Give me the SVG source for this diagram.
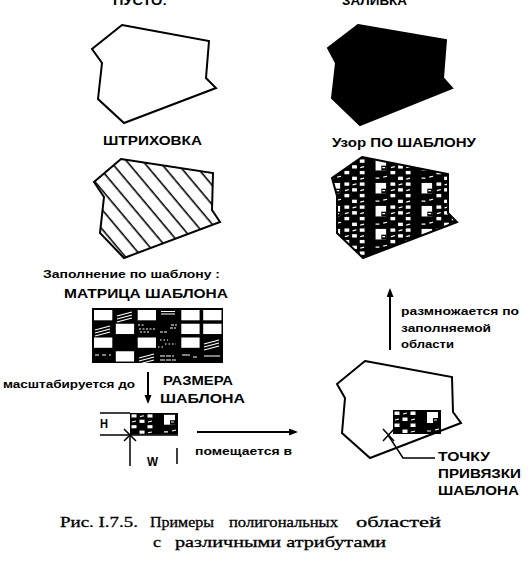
<svg xmlns="http://www.w3.org/2000/svg" xmlns:xlink="http://www.w3.org/1999/xlink" width="529" height="568" viewBox="0 0 529 568">
<style>
.poly{fill:none;stroke:#000;stroke-width:2;stroke-linejoin:miter}
.lbl{font-family:"Liberation Sans",Arial,sans-serif;font-weight:bold;font-size:12px;fill:#000}
.sm{font-family:"Liberation Sans",Arial,sans-serif;font-weight:bold;font-size:11px;fill:#000}
.cap{font-family:"Liberation Serif","Times New Roman",serif;font-size:15px;fill:#000;stroke:#000;stroke-width:0.3}
.ln{fill:none;stroke:#000;stroke-width:2}
.thin{fill:none;stroke:#000;stroke-width:1.5}
.wl{stroke:#fff;stroke-width:1.2;fill:none}
.wc{fill:#fff}
</style>
<defs>
<marker id="ah" markerUnits="userSpaceOnUse" markerWidth="10" markerHeight="8" refX="7" refY="3.5" orient="auto">
<path d="M0,0 L9,3.5 L0,7 Z" fill="#000"/>
</marker>
<pattern id="hatch" patternUnits="userSpaceOnUse" width="12.5" height="12.5" patternTransform="rotate(-40)">
<line x1="6" y1="-1" x2="6" y2="14" stroke="#000" stroke-width="1.6"/>
</pattern>
<g id="tpl">
<rect x="0" y="0" width="48" height="24" fill="#000"/>
<rect class="wc" x="1.5" y="1.5" width="5" height="3.5"/>
<rect class="wc" x="17.5" y="1.5" width="5" height="3.5"/>
<rect class="wc" x="9.5" y="7.5" width="5" height="3.5"/>
<rect class="wc" x="1.5" y="13.5" width="5" height="3.5"/>
<rect class="wc" x="17.5" y="13.5" width="5" height="3.5"/>
<rect class="wc" x="9.5" y="19.5" width="5" height="3.5"/>
<rect class="wc" x="34" y="2" width="11" height="11"/>
<rect x="40" y="8" width="5" height="5" fill="#000"/>
<path class="wl" d="M10,4 L14,3 M2,10 L6,9 M18,10 L22,9 M42,20 L46,19 M18,22 L22,21 M34,21 L38,21 M41,10 H44"/>
</g>
<pattern id="pat" patternUnits="userSpaceOnUse" x="343" y="158" width="46" height="23">
<use xlink:href="#tpl" href="#tpl" transform="scale(0.958,0.958)"/>
</pattern>
</defs>

<g id="empty">
<text class="lbl" x="113" y="5" textLength="54" lengthAdjust="spacingAndGlyphs">ПУСТО:</text>
<polygon class="poly" points="122,25 209,41 206,78 216,88 124,123 98,99 102,63 92,49"/>
</g>

<g id="filled">
<text class="lbl" x="342" y="5" textLength="65" lengthAdjust="spacingAndGlyphs">ЗАЛИВКА</text>
<polygon points="358,25 446,40 443,78 452,88 360,125 332,98 336,63 328,48" fill="#000" stroke="#000" stroke-width="2"/>
</g>

<g id="hatched">
<text class="lbl" x="103" y="145" textLength="99" lengthAdjust="spacingAndGlyphs">ШТРИХОВКА</text>
<polygon points="121,159 213,173 212,210 220,222 124,258 100,233 104,197 94,182" fill="url(#hatch)" stroke="#000" stroke-width="2"/>
</g>

<g id="patterned">
<text class="lbl" x="332" y="147" textLength="144" lengthAdjust="spacingAndGlyphs">Узор ПО ШАБЛОНУ</text>
<polygon points="362,157 448,174 448,213 457,222 363,258 337,233 337,196 332,178" fill="url(#pat)" stroke="#000" stroke-width="2"/>
</g>

<g id="matrix">
<text class="sm" x="43" y="278" textLength="177" lengthAdjust="spacingAndGlyphs">Заполнение по шаблону :</text>
<text class="lbl" x="64" y="298" textLength="164" lengthAdjust="spacingAndGlyphs">МАТРИЦА ШАБЛОНА</text>
<rect x="92" y="308" width="131" height="55" fill="#000"/>
<rect class="wc" x="94" y="310" width="18.3" height="10.3"/>
<rect class="wc" x="137.7" y="310" width="18.3" height="10.3"/>
<rect class="wc" x="181.3" y="310" width="18.3" height="10.3"/>
<rect class="wc" x="203.2" y="310" width="18.3" height="10.3"/>
<rect class="wc" x="115.8" y="323.75" width="18.3" height="10.3"/>
<rect class="wc" x="181.3" y="323.75" width="18.3" height="10.3"/>
<rect class="wc" x="203.2" y="323.75" width="18.3" height="10.3"/>
<rect class="wc" x="94" y="337.5" width="18.3" height="10.3"/>
<rect class="wc" x="137.7" y="337.5" width="18.3" height="10.3"/>
<rect class="wc" x="181.3" y="337.5" width="18.3" height="10.3"/>
<rect class="wc" x="115.8" y="351.25" width="18.3" height="10.3"/>
<path class="wl" d="M117,316 L132,312 M117,319 L132,315 M117,322 L132,318"/>
<path class="wl" d="M95,330 L110,326 M95,333 L110,329 M95,336 L110,332"/>
<path class="wl" d="M204,344 L219,340 M204,347 L219,343 M204,350 L219,346"/>
<path class="wl" d="M139,358 L154,354 M139,361 L154,357 M139,364 L154,360"/>
<path class="wl" d="M161,311.5 H175 M161,314 H175"/>
<path class="wl" stroke-dasharray="2,1.5" d="M138,325 H144 M139,329 H155 M140,332 H150"/>
<path class="wl" stroke-dasharray="3,1" d="M171,325 H177 M170,328 H176 M160,332 H167"/>
<path class="wl" stroke-dasharray="1.5,2" d="M160,340 H168 M165,344 H176 M158,347 H163"/>
<path class="wl" stroke-dasharray="4,3" d="M95,355 H111"/>
<path class="wl" stroke-dasharray="5,1" d="M160,356 H174 M160,360 H176"/>
<path class="wl" d="M182,355 H190 M193,357 H197 M204,356 H220"/>
</g>

<g id="template">
<use xlink:href="#tpl" href="#tpl" transform="translate(130,413) scale(1,0.9)"/>
<text class="lbl" x="100" y="428" textLength="8" lengthAdjust="spacingAndGlyphs">H</text>
<text class="lbl" x="147" y="466" textLength="11" lengthAdjust="spacingAndGlyphs">W</text>
<path class="thin" d="M100,413 H130 M100,435 H178 M130,435 V466 M177,448 V464"/>
<path class="thin" d="M124,429 L136,441 M124,441 L136,429"/>
</g>

<g id="placed">
<polygon class="poly" points="365,361 452,377 453,412 461,423 370,458 342,433 345,398 337,384"/>
<use xlink:href="#tpl" href="#tpl" transform="translate(393,410)"/>
<text class="lbl" x="438" y="461" textLength="52" lengthAdjust="spacingAndGlyphs">ТОЧКУ</text>
<text class="lbl" x="438" y="478" textLength="83" lengthAdjust="spacingAndGlyphs">ПРИВЯЗКИ</text>
<text class="lbl" x="438" y="495" textLength="81" lengthAdjust="spacingAndGlyphs">ШАБЛОНА</text>
</g>

<g id="connectors">
<path class="ln" d="M148,372 V402" marker-end="url(#ah)"/>
<text class="sm" x="3" y="388" textLength="132" lengthAdjust="spacingAndGlyphs">масштабируется до</text>
<text class="lbl" x="163" y="385" textLength="70" lengthAdjust="spacingAndGlyphs">РАЗМЕРА</text>
<text class="lbl" x="160" y="403" textLength="85" lengthAdjust="spacingAndGlyphs">ШАБЛОНА</text>
<path class="ln" d="M197,432 H296" marker-end="url(#ah)"/>
<text class="sm" x="195" y="455" textLength="97" lengthAdjust="spacingAndGlyphs">помещается в</text>
<path class="ln" d="M390,350 V290" marker-end="url(#ah)"/>
<text class="sm" x="401" y="315" textLength="118" lengthAdjust="spacingAndGlyphs">размножается по</text>
<text class="sm" x="401" y="332" textLength="90" lengthAdjust="spacingAndGlyphs">заполняемой</text>
<text class="sm" x="401" y="348" textLength="53" lengthAdjust="spacingAndGlyphs">области</text>
<path class="thin" d="M383,429 L394,441 M383,441 L394,429"/>
<path class="thin" d="M388,435 L403,458 H435"/>
</g>

<g id="caption">
<text class="cap" x="60" y="527" textLength="78" lengthAdjust="spacingAndGlyphs">Рис. I.7.5.</text>
<text class="cap" x="150" y="527" textLength="64" lengthAdjust="spacingAndGlyphs">Примеры</text>
<text class="cap" x="229" y="527" textLength="109" lengthAdjust="spacingAndGlyphs">полигональных</text>
<text class="cap" x="356" y="527" textLength="85" lengthAdjust="spacingAndGlyphs">областей</text>
<text class="cap" x="153" y="547" textLength="8" lengthAdjust="spacingAndGlyphs">с</text>
<text class="cap" x="175" y="547" textLength="211" lengthAdjust="spacingAndGlyphs">различными атрибутами</text>
</g>
</svg>
